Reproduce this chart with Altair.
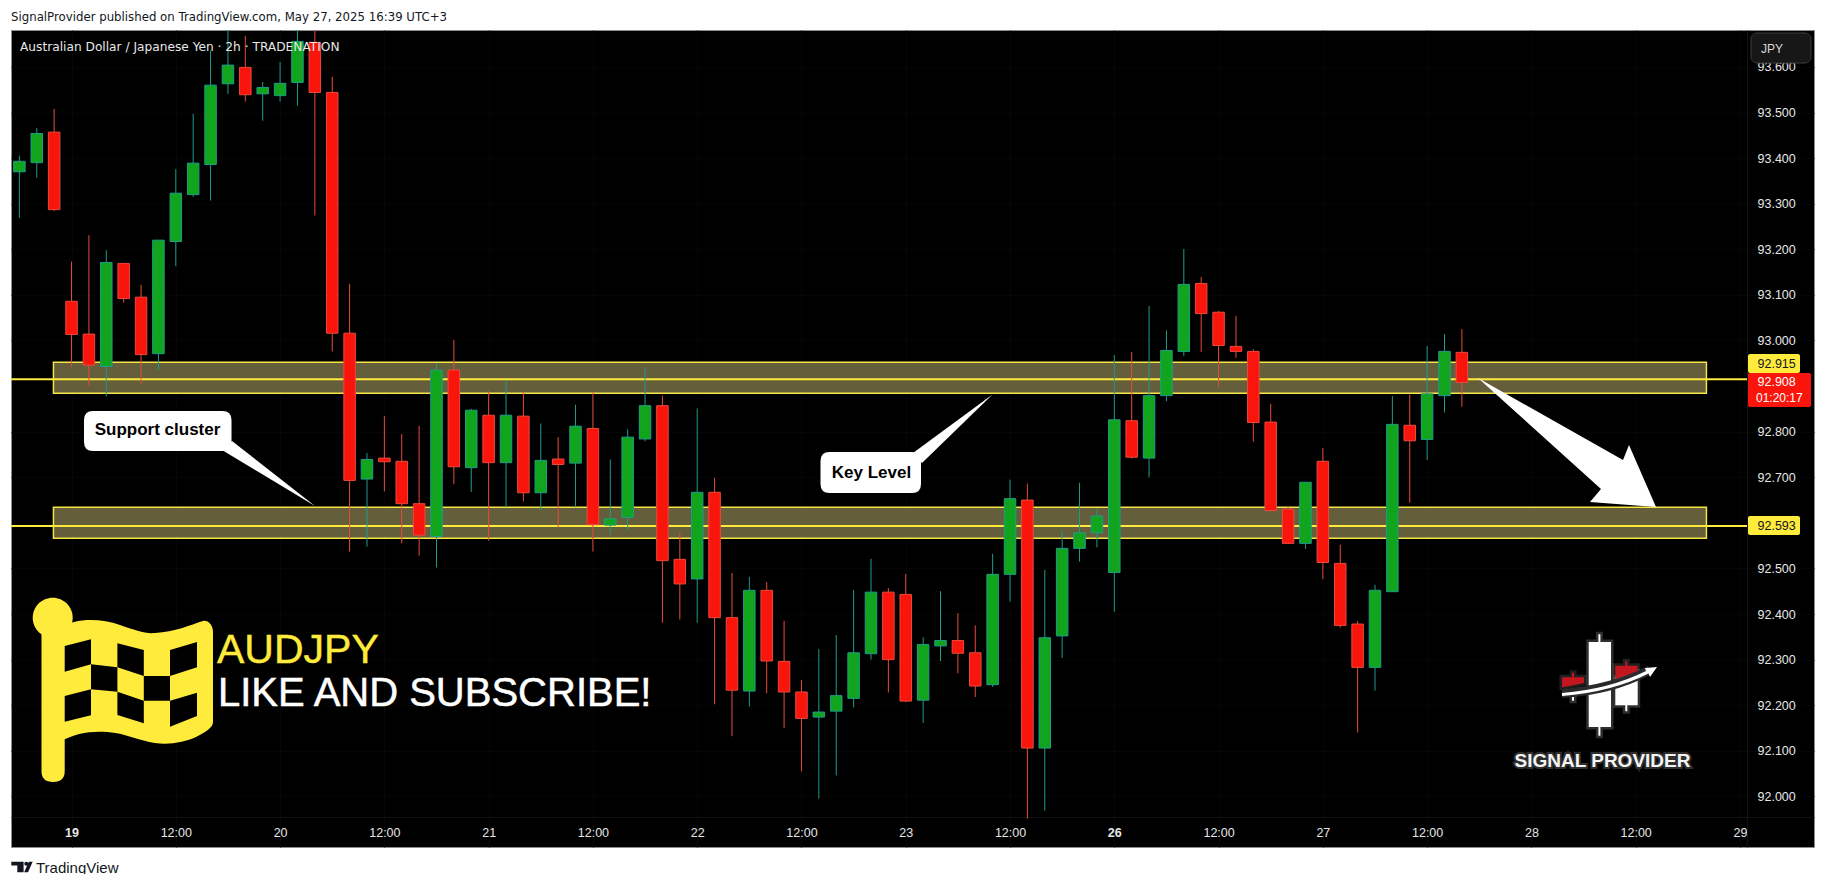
import altair as alt
import pandas as pd

opens = [93.370,93.390,93.457,93.086,93.014,92.943,93.169,93.095,92.971,93.217,93.320,93.386,93.563,93.599,93.541,93.537,93.566,93.654,93.544,93.016,92.696,92.742,92.735,92.642,92.570,92.935,92.721,92.836,92.732,92.834,92.666,92.740,92.731,92.807,92.595,92.612,92.784,92.857,92.520,92.477,92.667,92.392,92.231,92.452,92.296,92.229,92.174,92.187,92.215,92.313,92.448,92.443,92.211,92.330,92.342,92.315,92.245,92.487,92.650,92.106,92.352,92.544,92.578,92.491,92.824,92.742,92.879,92.976,93.125,93.062,92.987,92.976,92.821,92.630,92.555,92.735,92.511,92.378,92.283,92.449,92.814,92.783,92.879,92.974]
highs = [93.405,93.466,93.508,93.173,93.231,93.198,93.169,93.122,93.220,93.376,93.497,93.636,93.700,93.668,93.567,93.611,93.700,93.690,93.578,93.124,92.753,92.834,92.795,92.813,92.950,93.001,92.850,92.889,92.913,92.886,92.818,92.788,92.859,92.886,92.739,92.805,92.941,92.879,92.578,92.851,92.699,92.490,92.481,92.470,92.385,92.255,92.323,92.354,92.453,92.521,92.457,92.488,92.349,92.450,92.402,92.375,92.532,92.695,92.686,92.497,92.582,92.688,92.631,92.968,92.975,93.076,93.022,93.201,93.139,93.065,93.054,92.981,92.861,92.637,92.689,92.764,92.552,92.385,92.464,92.878,92.881,92.988,93.014,93.025]
lows = [93.269,93.357,93.284,92.943,92.901,92.877,93.083,92.905,92.935,93.163,93.315,93.307,93.541,93.524,93.482,93.524,93.515,93.274,92.976,92.537,92.548,92.669,92.555,92.528,92.502,92.685,92.668,92.561,92.634,92.647,92.628,92.590,92.634,92.537,92.574,92.585,92.779,92.381,92.388,92.381,92.202,92.132,92.197,92.226,92.150,92.055,91.995,92.046,92.195,92.300,92.228,92.207,92.161,92.297,92.270,92.218,92.240,92.427,91.951,91.969,92.304,92.515,92.546,92.405,92.741,92.700,92.867,92.966,92.975,92.898,92.962,92.778,92.625,92.555,92.543,92.477,92.370,92.140,92.232,92.449,92.644,92.738,92.842,92.855]
closes = [93.393,93.454,93.287,93.013,92.946,93.171,93.092,92.969,93.220,93.323,93.389,93.560,93.604,93.539,93.555,93.564,93.656,93.544,93.016,92.693,92.739,92.734,92.642,92.573,92.935,92.723,92.847,92.732,92.836,92.666,92.737,92.728,92.812,92.596,92.609,92.788,92.857,92.517,92.466,92.667,92.392,92.233,92.452,92.297,92.229,92.171,92.185,92.221,92.315,92.448,92.300,92.209,92.333,92.342,92.314,92.242,92.487,92.653,92.106,92.348,92.544,92.578,92.615,92.826,92.744,92.879,92.978,93.123,93.059,92.989,92.976,92.820,92.627,92.555,92.689,92.513,92.375,92.283,92.452,92.816,92.780,92.883,92.976,92.908]

price_ticks = [92.0,92.1,92.2,92.3,92.4,92.5,92.7,92.8,93.0,93.1,93.2,93.3,93.4,93.5,93.6]
time_ticks = [3,9,15,21,27,33,39,45,51,57,63,69,75,81,87,93,99]
time_labels = ["19","12:00","20","12:00","21","12:00","22","12:00","23","12:00","26","12:00","27","12:00","28","12:00","29"]
bold_ticks = [3,63]

band_low = [92.884,92.566]
band_high = [92.952,92.634]
band_x0 = [1.96,1.96]
band_x1 = [97.07,97.07]
level_lines = [92.915,92.593]

GREEN, TEAL, RED, RED_WICK = "#10a51c", "#1f9c8c", "#f9150b", "#ea4a3c"
YEL = "#ffeb3b"

W, H = 1803, 817
OX, OY = 11, 30

x_scale = alt.Scale(domain=[-0.483, 103.26], nice=False, zero=False, padding=0)
y_scale = alt.Scale(domain=[91.889, 93.681], nice=False, zero=False, padding=0)

label_map = "{" + ",".join(f"'{v}':'{t}'" for v, t in zip(time_ticks, time_labels)) + "}"
bold_test = "||".join(f"datum.value=={b}" for b in bold_ticks)

x_axis = alt.Axis(
    orient="bottom", offset=-30, values=time_ticks, labelExpr=f"{label_map}[datum.value]",
    ticks=False, labelPadding=9, labelFont="Liberation Sans", labelFontSize=12.5, labelColor="#e6e6e6",
    labelFontWeight=alt.expr(f"({bold_test})?'bold':'normal'"),
    labelOverlap=False, labelFlush=False, domainColor="#121212", grid=True, gridColor="#060606", title=None)
y_axis = alt.Axis(
    orient="right", offset=-67, values=price_ticks, format=".3f", ticks=False, labelPadding=10,
    labelFont="Liberation Sans", labelFontSize=12.5, labelColor="#e6e6e6", labelOverlap=False,
    labelFlush=False, domainColor="#121212", grid=True, gridColor="#060606", title=None)


def X(f, **k):
    return alt.X(f, type="quantitative", scale=x_scale, axis=x_axis, **k)


def Y(f, **k):
    return alt.Y(f, type="quantitative", scale=y_scale, axis=y_axis, **k)


df = pd.DataFrame({"i": list(range(len(opens))), "o": opens, "h": highs, "l": lows, "c": closes})
df["d"] = ["up" if c >= o else "down" for o, c in zip(opens, closes)]
one = alt.Data(values=[{"a": 0}])


def path(d, fill, stroke=None, sw=0, opacity=1.0):
    kw = {"stroke": stroke, "strokeWidth": sw} if stroke else {"strokeWidth": 0}
    return alt.Chart(one).mark_point(shape=d, size=4, filled=True, fill=fill, opacity=opacity, **kw).encode(
        x=alt.value(-OX), y=alt.value(-OY))


def txt(s, x, y, size=12, color="#ffffff", font="Liberation Sans", weight="normal", align="left", **k):
    return alt.Chart(one).mark_text(text=s, fontSize=size, color=color, font=font, fontWeight=weight,
                                    align=align, baseline="middle", **k).encode(
        x=alt.value(x - OX), y=alt.value(y - OY))


def box(x, x2, y, y2, fill, stroke=None, radius=0):
    kw = {"stroke": stroke, "strokeWidth": 1} if stroke else {}
    return alt.Chart(one).mark_rect(fill=fill, cornerRadius=radius, **kw).encode(
        x=alt.value(x - OX), x2=alt.value(x2 - OX), y=alt.value(y - OY), y2=alt.value(y2 - OY))


def rbox(x0, y0, x1, y1, r):
    return (f"M{x0+r},{y0} L{x1-r},{y0} Q{x1},{y0} {x1},{y0+r} L{x1},{y1-r} Q{x1},{y1} {x1-r},{y1} "
            f"L{x0+r},{y1} Q{x0},{y1} {x0},{y1-r} L{x0},{y0+r} Q{x0},{y0} {x0+r},{y0} Z")


bands_df = pd.DataFrame({"a": band_x0, "b": band_x1, "lo": band_low, "hi": band_high})
bands = alt.Chart(bands_df).mark_rect(fill="#645e3a", stroke="#f5e545", strokeWidth=1.5).encode(
    x=X("a"), x2=alt.X2("b"), y=Y("lo"), y2=alt.Y2("hi"))
lines = alt.Chart(pd.DataFrame({"p": level_lines})).mark_rule(color=YEL, strokeWidth=2).encode(
    x=alt.value(0), x2=alt.value(1736), y=Y("p"))

wick = alt.Chart(df).mark_rule(strokeWidth=1, clip=True).encode(
    x=X("i"), y=Y("l"), y2=alt.Y2("h"),
    color=alt.Color("d:N", legend=None, scale=alt.Scale(domain=["up", "down"], range=[TEAL, RED_WICK])))
body = alt.Chart(df).mark_bar(size=11.5, strokeWidth=1, clip=True, orient="vertical").encode(
    x=X("i"), y=Y("o"), y2=alt.Y2("c"),
    fill=alt.Fill("d:N", legend=None, scale=alt.Scale(domain=["up", "down"], range=[GREEN, RED])),
    stroke=alt.Stroke("d:N", legend=None, scale=alt.Scale(domain=["up", "down"], range=[TEAL, RED_WICK])))

flag = "M60,628 C75,618 100,618 120,625 C135,630 145,634 155,633 C175,632 190,625 203,621 C208,620 213,625 213,632 L213,722 C213,728 205,732 196,737 C185,742 170,745 155,743 C140,741 125,733 107,732 C90,731 75,733 60,742 Z"
ball = "M32.7,617.7 A20,20 0 1,1 72.7,617.7 A20,20 0 1,1 32.7,617.7 Z"
pole = "M41.5,625 L64.7,625 L64.7,771 Q64.7,782 53,782 Q41.5,782 41.5,771 Z"
cells = ("M64.7,646 L91,639.3 L91,664.3 L64.7,671.7 Z M117.4,643.3 L143.8,650 L143.8,676 L117.4,667.3 Z "
         "M170,650 L197,642 L197,667.3 L170,676 Z M91,664.3 L117.4,667.3 L117.4,691.7 L91,689.3 Z "
         "M143.8,676 L170,676 L170,700.7 L143.8,700.7 Z M64.7,696 L91,689.3 L91,715.3 L64.7,721.7 Z "
         "M117.4,691.7 L143.8,700.7 L143.8,723.3 L117.4,715 Z M170,700.7 L197,692.7 L197,716 L170,726.7 Z")

logo_white = ("M1588.7,642 L1598.4,642 L1598.4,634.3 L1600.4,634.3 L1600.4,642 L1611,642 L1611,727 L1600.4,727 L1600.4,735.7 L1598.4,735.7 L1598.4,727 L1588.7,727 Z "
              "M1615.3,678 L1637.7,672 L1637.7,705.3 L1627.3,705.3 L1627.3,711.3 L1625.3,711.3 L1625.3,705.3 L1615.3,705.3 Z "
              "M1572,692 L1574,692 L1574,700.7 L1572,700.7 Z")
logo_red = ("M1562,677.3 L1572,677.3 L1572,672.7 L1574,672.7 L1574,677.3 L1584,677.3 L1584,683 L1562,687.5 Z "
            "M1615.3,665.7 L1625.3,665.7 L1625.3,661.3 L1627.3,661.3 L1627.3,665.7 L1637.7,665.7 L1637.7,672 L1615.3,679.3 Z")
logo_gap = "M1562,689 Q1610,685 1648,666 L1650,675 Q1612,695 1562,698 Z"
logo_arrow = "M1562,693 Q1610,689 1646,671 L1645,668 L1657,667 L1650,677 L1648.5,673.5 Q1612,692 1562,696 Z"

tv_logo = ("M11.3,861.7 L23.6,861.7 L23.6,872.3 L17.3,872.3 L17.3,865.6 L11.3,865.6 Z "
           "M24.3,863.7 A2,2 0 1,1 28.3,863.7 A2,2 0 1,1 24.3,863.7 Z "
           "M28.8,861.7 L32.7,861.7 L28,872.3 L24.2,872.3 Z")

arrow = "M1478,378 L1623,460 L1629,445 L1656,507 L1590,502 L1601,489 Z"
tail_a = "M222,450 L232,441 L315,506 Z"
tail_b = "M913,453 L922,463 L992.5,394.4 Z"

layers = [
    bands, lines, wick, body,
    txt("Australian Dollar / Japanese Yen · 2h · TRADENATION", 20, 46.5, 12.2, "#e8e8e8", "DejaVu Sans"),
    path(arrow, "#ffffff"),
    path(rbox(84, 411, 231.5, 451, 9), "#ffffff"), path(tail_a, "#ffffff"),
    path(rbox(820.5, 452, 921, 493, 9), "#ffffff"), path(tail_b, "#ffffff"),
    txt("Support cluster", 157.5, 429.5, 17, "#000000", weight="bold", align="center"),
    txt("Key Level", 871.5, 472.5, 17, "#000000", weight="bold", align="center"),
    path(pole, YEL), path(ball, YEL), path(flag, YEL), path(cells, "#000000"),
    txt("AUDJPY", 217, 651, 41, YEL, stroke=YEL, strokeWidth=0.4),
    txt("LIKE AND SUBSCRIBE!", 218, 694, 40, "#ffffff", stroke="#ffffff", strokeWidth=0.5),
    path(logo_white, "#ffffff", "#ffffff", 5, 0.18), path(logo_red, "#ffffff", "#ffffff", 5, 0.12),
    path(logo_white, "#ffffff"), path(logo_red, "#c4161f"),
    path(logo_gap, "#2a2a2a"), path(logo_arrow, "#ffffff"),
    txt("SIGNAL PROVIDER", 1602.5, 761, 19, "#ffffff", weight="bold", align="center", stroke="#ffffff", strokeWidth=4, opacity=0.18),
    txt("SIGNAL PROVIDER", 1602.5, 761, 19, "#f4f4f4", weight="bold", align="center"),
    box(1748, 1800, 354, 373, YEL, radius=2), box(1748, 1800, 516, 535, YEL, radius=2),
    box(1748, 1811, 373, 407, RED, radius=2),
    txt("92.915", 1757.5, 363.5, 12.5, "#131722"), txt("92.593", 1757.5, 525.5, 12.5, "#131722"),
    txt("92.908", 1757.5, 381.5, 12.5, "#ffffff"), txt("01:20:17", 1756, 398, 12, "#ffffff"),
    box(1751, 1811, 33, 63, "#171717", "#3c3c3c", 6),
    txt("JPY", 1761, 48.5, 12, "#d8d8d8"),
    txt("SignalProvider published on TradingView.com, May 27, 2025 16:39 UTC+3", 11, 16.5, 11.75, "#131722", "DejaVu Sans"),
    path(tv_logo, "#131722"),
    txt("TradingView", 36, 867.5, 15, "#131722"),
]

chart = alt.layer(*layers).resolve_scale(color="independent").properties(
    width=W, height=H,
    padding={"left": OX - 8, "top": OY - 8, "right": 2, "bottom": 27},
    autosize=alt.AutoSizeParams(type="none"),
    background="#ffffff",
).configure_view(fill="#000000", stroke="#8c8c8c", strokeWidth=1)

chart.save("out.html", embed_options={"renderer": "svg", "actions": False})
